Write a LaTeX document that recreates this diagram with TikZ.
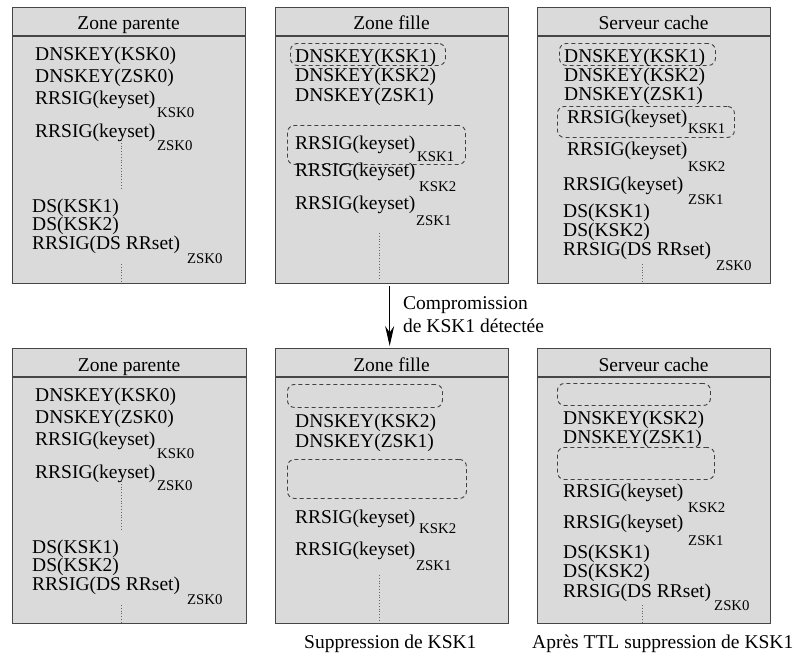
\documentclass[tikz,border=0pt]{standalone}
\usepackage{fontspec}
\setmainfont{Liberation Serif}
\usetikzlibrary{arrows.meta}
\definecolor{zonegray}{RGB}{218,218,218}
\definecolor{edgegray}{RGB}{70,70,70}
\tikzset{
  zone/.style={draw=edgegray, fill=zonegray, line width=1.3pt, inner sep=0pt, anchor=north west},
  sepline/.style={draw=edgegray, line width=1.3pt},
  txt/.style={anchor=base west, inner sep=0pt, font=\fontsize{19.5}{20}\selectfont},
  subtxt/.style={anchor=base west, inner sep=0pt, font=\fontsize{14.8}{15}\selectfont},
  hdr/.style={anchor=base, inner sep=0pt, font=\fontsize{19.5}{20}\selectfont},
  hidden/.style={draw=black!75, dash pattern=on 4pt off 3pt, rounded corners=7pt, line width=0.9pt, inner sep=0pt, anchor=north west},
  gap/.style={draw=black!60, dotted, line width=0.8pt},
  flow/.style={draw=black, line width=1pt, -{Stealth[length=20pt,width=9pt]}}
}
\begin{document}
\begin{tikzpicture}[x=1pt,y=-1pt]
\useasboundingbox (0,0) rectangle (795,657);

% ---------- before: three zones ----------
\node[zone, minimum width=233pt, minimum height=276pt] (b1) at (12,7) {};
\node[zone, minimum width=233pt, minimum height=276pt] (b2) at (275,7) {};
\node[zone, minimum width=233pt, minimum height=276pt] (b3) at (537,7) {};
\draw[sepline] (12,36) -- (245,36);
\draw[sepline] (275,36) -- (508,36);
\draw[sepline] (537,36) -- (770,36);
\node[hdr] (h1) at (128.5,29) {Zone parente};
\node[hdr] (h2) at (391.5,29) {Zone fille};
\node[hdr] (h3) at (653.5,29) {Serveur cache};

% parent zone
\node[txt] (p1) at (35,60) {DNSKEY(KSK0)};
\node[txt] (p2) at (35,82) {DNSKEY(ZSK0)};
\node[txt] (p3) at (35,104) {RRSIG(keyset)};
\node[subtxt] (p3s) at (157,117) {KSK0};
\node[txt] (p4) at (35,137) {RRSIG(keyset)};
\node[subtxt] (p4s) at (157,150) {ZSK0};
\draw[gap] (121,140) -- (121,190);
\node[txt] (p5) at (32,212) {DS(KSK1)};
\node[txt] (p6) at (32,230) {DS(KSK2)};
\node[txt] (p7) at (32,249) {RRSIG(DS RRset)};
\node[subtxt] (p7s) at (187,263) {ZSK0};
\draw[gap] (121,264) -- (121,282);

% child zone
\node[hidden, minimum width=155pt, minimum height=22pt] (c1d) at (290,43) {};
\node[hidden, minimum width=178pt, minimum height=39pt] (c2d) at (287,125) {};
\node[txt] (c1) at (295,62) {DNSKEY(KSK1)};
\node[txt] (c2) at (295,81) {DNSKEY(KSK2)};
\node[txt] (c3) at (295,101) {DNSKEY(ZSK1)};
\node[txt] (c4) at (295,149) {RRSIG(keyset)};
\node[subtxt] (c4s) at (417,161) {KSK1};
\node[txt] (c5) at (295,176) {RRSIG(keyset)};
\node[subtxt] (c5s) at (419,191) {KSK2};
\node[txt] (c6) at (295,209) {RRSIG(keyset)};
\node[subtxt] (c6s) at (416,225) {ZSK1};
\draw[gap] (379,233) -- (379,278);

% caching resolver
\node[hidden, minimum width=156pt, minimum height=22pt] (s1d) at (559,43) {};
\node[hidden, minimum width=177pt, minimum height=31pt] (s2d) at (557,106) {};
\node[txt] (s1) at (564,62) {DNSKEY(KSK1)};
\node[txt] (s2) at (564,81) {DNSKEY(KSK2)};
\node[txt] (s3) at (564,100) {DNSKEY(ZSK1)};
\node[txt] (s4) at (567,123) {RRSIG(keyset)};
\node[subtxt] (s4s) at (688,133) {KSK1};
\node[txt] (s5) at (567,155) {RRSIG(keyset)};
\node[subtxt] (s5s) at (688,171) {KSK2};
\node[txt] (s6) at (563,190) {RRSIG(keyset)};
\node[subtxt] (s6s) at (688,204) {ZSK1};
\node[txt] (s7) at (563,217) {DS(KSK1)};
\node[txt] (s8) at (563,236) {DS(KSK2)};
\node[txt] (s9) at (563,255) {RRSIG(DS RRset)};
\node[subtxt] (s9s) at (716,270) {ZSK0};
\draw[gap] (642,264) -- (642,282);

% ---------- event ----------
\node[zone, minimum width=234pt, minimum height=275pt] (b4) at (12,348) {};
\node[zone, minimum width=233pt, minimum height=275pt] (b5) at (275,348) {};
\node[zone, minimum width=233pt, minimum height=275pt] (b6) at (537,348) {};
\draw[flow, shorten <=2pt, shorten >=2pt] ([xshift=-2.5pt]b2.south) -- ([xshift=-2.5pt]b5.north);
\node[txt] (e1) at (403,309) {Compromission};
\node[txt] (e2) at (403,332) {de KSK1 détectée};

% ---------- after: three zones ----------
\draw[sepline] (12,377) -- (246,377);
\draw[sepline] (275,377) -- (508,377);
\draw[sepline] (537,377) -- (770,377);
\node[hdr] (h4) at (129,371) {Zone parente};
\node[hdr] (h5) at (391.5,371) {Zone fille};
\node[hdr] (h6) at (653.5,371) {Serveur cache};

% parent zone
\node[txt] (q1) at (35,401) {DNSKEY(KSK0)};
\node[txt] (q2) at (35,423) {DNSKEY(ZSK0)};
\node[txt] (q3) at (35,445) {RRSIG(keyset)};
\node[subtxt] (q3s) at (157,458) {KSK0};
\node[txt] (q4) at (35,478) {RRSIG(keyset)};
\node[subtxt] (q4s) at (157,490) {ZSK0};
\draw[gap] (121,481) -- (121,531);
\node[txt] (q5) at (32,553) {DS(KSK1)};
\node[txt] (q6) at (32,571) {DS(KSK2)};
\node[txt] (q7) at (32,590) {RRSIG(DS RRset)};
\node[subtxt] (q7s) at (187,604) {ZSK0};
\draw[gap] (121,605) -- (121,622);

% child zone
\node[hidden, minimum width=155pt, minimum height=23pt] (f1d) at (287,384) {};
\node[hidden, minimum width=179pt, minimum height=39pt] (f2d) at (287,459) {};
\node[txt] (f2) at (295,427) {DNSKEY(KSK2)};
\node[txt] (f3) at (295,447) {DNSKEY(ZSK1)};
\node[txt] (f5) at (295,523) {RRSIG(keyset)};
\node[subtxt] (f5s) at (419,533) {KSK2};
\node[txt] (f6) at (295,555) {RRSIG(keyset)};
\node[subtxt] (f6s) at (416,570) {ZSK1};
\draw[gap] (379,575) -- (379,622);
\node[txt] (f7) at (304,648) {Suppression de KSK1};

% caching resolver
\node[hidden, minimum width=153pt, minimum height=22pt] (r1d) at (557,383) {};
\node[hidden, minimum width=157pt, minimum height=32pt] (r2d) at (557,447) {};
\node[txt] (r2) at (563,424) {DNSKEY(KSK2)};
\node[txt] (r3) at (563,443) {DNSKEY(ZSK1)};
\node[txt] (r5) at (563,497) {RRSIG(keyset)};
\node[subtxt] (r5s) at (688,512) {KSK2};
\node[txt] (r6) at (563,528) {RRSIG(keyset)};
\node[subtxt] (r6s) at (688,545) {ZSK1};
\node[txt] (r7) at (563,558) {DS(KSK1)};
\node[txt] (r8) at (563,577) {DS(KSK2)};
\node[txt] (r9) at (563,597) {RRSIG(DS RRset)};
\node[subtxt] (r9s) at (714,610) {ZSK0};
\draw[gap] (642,605) -- (642,622);
\node[txt] (r10) at (532,648) {Après TTL suppression de KSK1};
\end{tikzpicture}
\end{document}
